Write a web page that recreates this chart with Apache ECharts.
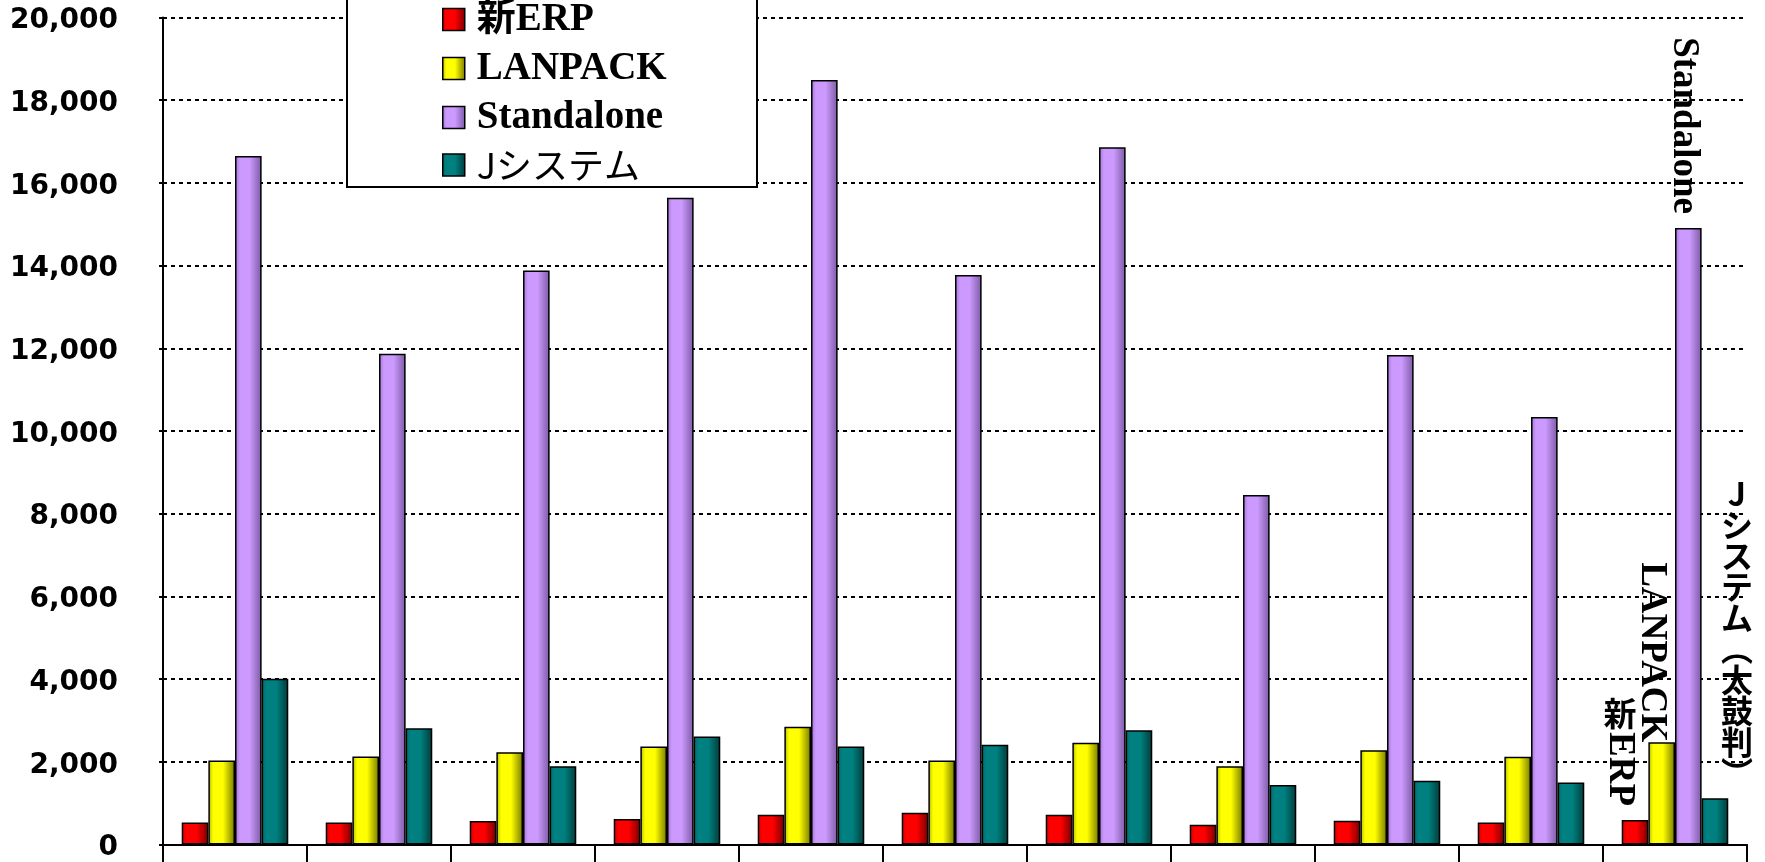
<!DOCTYPE html>
<html>
<head>
<meta charset="utf-8">
<script src="https://cdn.jsdelivr.net/npm/echarts@6/dist/echarts.min.js"></script>
<style>
html,body{margin:0;padding:0;background:#fff;}
#chart{width:1765px;height:862px;}
</style>
</head>
<body>
<div id="chart"></div>
<script>
// ---- data ----
const categories = ['1','2','3','4','5','6','7','8','9','10','11'];
const seriesNames = ['新ERP', 'LANPACK', 'Standalone', 'Jシステム'];
const annotationTexts = ['新ERP', 'LANPACK', 'Standalone', 'Jシステム(太鼓判)'];
const newErp     = [530, 530, 570, 615, 720, 770, 720, 480, 575, 530, 590];
const lanpack    = [2030, 2130, 2230, 2370, 2850, 2030, 2460, 1890, 2280, 2120, 2470];
const standalone = [16650, 11870, 13880, 15640, 18490, 13770, 16860, 8450, 11840, 10340, 14910];
const jSystem    = [4010, 2810, 1890, 2610, 2370, 2410, 2760, 1440, 1540, 1500, 1120];
const yTicks = {min: 0, max: 20000, interval: 2000};

// ---- styling ----
const SERIF = '"Liberation Serif", "Times New Roman", "Noto Sans CJK JP", serif';
const GOTHIC = '"Noto Sans CJK JP", sans-serif';
function grad(left, base, dark) {
  return {type: 'linear', x: 0, y: 0, x2: 1, y2: 0, colorStops: [
    {offset: 0, color: left}, {offset: 0.18, color: base},
    {offset: 0.55, color: base}, {offset: 1, color: dark}]};
}
const colors = [
  grad('#d80000', '#ff0000', '#780000'),
  grad('#b8b800', '#ffff00', '#787800'),
  grad('#9a70c8', '#cc99ff', '#7a5aa0'),
  grad('#006a6a', '#008080', '#003a3a')
];
const last = categories.length - 1;
const serifLabel = {fontFamily: SERIF, fontWeight: 'bold', fontSize: 37, color: '#000'};
const labels = [
  Object.assign({show: true, position: 'top', rotate: -90, align: 'right', verticalAlign: 'middle',
    distance: 14, offset: [0, 15], formatter: () => annotationTexts[0].slice(1)}, serifLabel),
  Object.assign({show: true, position: 'top', rotate: -90, align: 'right', verticalAlign: 'middle',
    distance: 0, offset: [0, 10], formatter: () => annotationTexts[1]}, serifLabel),
  Object.assign({show: true, position: 'top', rotate: -90, align: 'right', verticalAlign: 'middle',
    distance: 14, offset: [0, 5], formatter: () => annotationTexts[2]}, serifLabel),
  {show: true, position: 'top', distance: 10, offset: [22, 0], align: 'center', verticalAlign: 'bottom',
   fontFamily: GOTHIC, fontWeight: 'bold', fontSize: 32, lineHeight: 31, color: '#000',
   formatter: () => annotationTexts[3].split('').map(c => c === '(' ? '︵' : c === ')' ? '︶' : c).join('\n')}
];
const values = [newErp, lanpack, standalone, jSystem];

const chart = echarts.init(document.getElementById('chart'), null, {renderer: 'canvas'});
const boxRect = {
  type: 'rect', z: 3, silent: true,
  shape: {x: 347, y: -10, width: 410, height: 197},
  style: {fill: '#fff', stroke: '#000', lineWidth: 2}
};
const option = {
  backgroundColor: '#fff',
  animation: false,
  grid: {left: 163, right: 18, top: 16, bottom: 17, containLabel: false},
  legend: {
    orient: 'vertical', left: 442, top: 0, padding: 0, itemGap: 10,
    itemWidth: 22, itemHeight: 22, icon: 'rect', z: 5,
    itemStyle: {borderColor: '#000', borderWidth: 1.5},
    data: seriesNames,
    formatter: name => name === 'Jシステム' ? '{g|' + name + '}' : '{s|' + name + '}',
    textStyle: {
      rich: {
        s: {fontFamily: SERIF, fontWeight: 'bold', fontSize: 39, lineHeight: 38, color: '#000', padding: [0, 0, 0, 7]},
        g: {fontFamily: GOTHIC, fontWeight: 'normal', fontSize: 36, lineHeight: 38, color: '#000', padding: [0, 0, 0, 7]}
      }
    }
  },
  graphic: [boxRect],
  xAxis: {
    type: 'category', data: categories, boundaryGap: true,
    axisLine: {lineStyle: {color: '#000', width: 2}},
    axisTick: {show: true, length: 22, lineStyle: {color: '#000', width: 2}},
    axisLabel: {show: false}
  },
  yAxis: {
    type: 'value', min: yTicks.min, max: yTicks.max, interval: yTicks.interval,
    axisLine: {show: true, lineStyle: {color: '#000', width: 2}},
    axisTick: {show: true, length: 4, lineStyle: {color: '#000', width: 2}},
    axisLabel: {margin: 45, color: '#000',
      formatter: v => '{n|' + v.toLocaleString('en-US') + '}',
      rich: {n: {fontFamily: '"DejaVu Sans", sans-serif', fontWeight: 'bold', fontSize: 28, color: '#000',
        lineHeight: 30, padding: [7, 0, 0, 0]}}},
    splitLine: {show: true, lineStyle: {color: '#000', width: 2, type: [4, 4]}}
  },
  series: seriesNames.map((name, si) => ({
    name: name, type: 'bar', barGap: 0, barCategoryGap: '26%',
    itemStyle: {color: colors[si], borderColor: '#000', borderWidth: 1.5},
    data: values[si].map((v, i) => i === last ? {value: v, label: labels[si]} : v)
  }))
};
chart.setOption(option);

// upright "新" above the rotated "ERP" annotation (vertical writing), placed from the bar's own layout
const lay = chart.getModel().getSeriesByIndex(0).getData().getItemLayout(last);
const barTop = Math.min(lay.y, lay.y + lay.height);
const cx = lay.x + lay.width / 2 - 15;
chart.setOption({graphic: [boxRect, {
  type: 'text', z: 10, silent: true, x: cx, y: barTop - 14 - 76,
  style: {text: annotationTexts[0].slice(0, 1), fontFamily: GOTHIC, fontWeight: 'bold', fontSize: 33,
    fill: '#000', align: 'center', verticalAlign: 'bottom'}
}]});
</script>
</body>
</html>
